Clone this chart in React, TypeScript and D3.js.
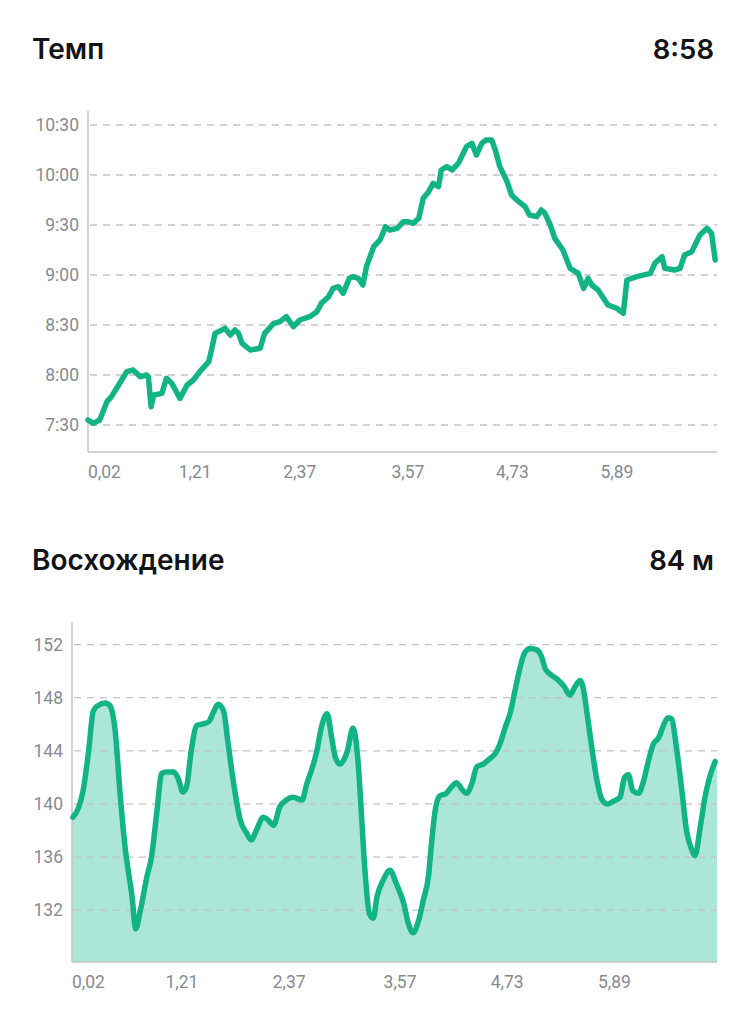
import React from "react";
import * as d3 from "d3";

// Pace chart: distance (km) vs pace (seconds per km)
const paceKm = [
  0.02, 0.08, 0.15, 0.23, 0.28, 0.36, 0.45, 0.52, 0.6, 0.67, 0.69, 0.72, 0.75, 0.84, 0.89, 0.95, 0.99, 1.04, 1.12, 1.19,
  1.26, 1.36, 1.39, 1.43, 1.54, 1.6, 1.65, 1.69, 1.73, 1.82, 1.93, 1.98, 2.08, 2.15, 2.22, 2.3, 2.37, 2.48, 2.56, 2.61,
  2.69, 2.74, 2.8, 2.85, 2.92, 2.96, 3.02, 3.07, 3.11, 3.19, 3.26, 3.3, 3.32, 3.37, 3.45, 3.52, 3.57, 3.63, 3.69, 3.74,
  3.8, 3.85, 3.91, 3.94, 4.0, 4.06, 4.13, 4.22, 4.28, 4.33, 4.39, 4.44, 4.5, 4.54, 4.59, 4.67, 4.72, 4.8, 4.87, 4.92,
  5.0, 5.05, 5.09, 5.15, 5.2, 5.29, 5.37, 5.46, 5.52, 5.57, 5.61, 5.68, 5.79, 5.89, 5.96, 6.0, 6.11, 6.26, 6.31, 6.39,
  6.42, 6.53, 6.59, 6.64, 6.72, 6.81, 6.89, 6.94, 6.98,
];
const paceSec = [
  453, 451, 453, 464, 467, 474, 482, 483, 479, 480, 479, 461, 468, 469, 478, 475, 471, 466, 474, 477,
  482, 488, 495, 505, 508, 504, 507, 505, 499, 495, 496, 505, 511, 512, 515, 509, 513, 515, 518, 523,
  527, 532, 533, 529, 538, 539, 538, 534, 545, 557, 561, 566, 569, 567, 568, 572, 572, 571, 574, 586,
  590, 595, 593, 603, 605, 603, 607, 617, 619, 612, 619, 621, 621, 615, 605, 596, 588, 584, 581, 576,
  575, 579, 577, 570, 562, 555, 544, 541, 532, 538, 534, 531, 522, 520, 517, 537, 539, 541, 547, 551,
  544, 543, 544, 552, 554, 564, 568, 565, 549,
];
const paceTicks = [450, 480, 510, 540, 570, 600, 630];

// Elevation chart: distance (km) vs altitude (m)
const elevKm = [
  0.03, 0.09, 0.14, 0.2, 0.25, 0.3, 0.38, 0.43, 0.49, 0.54, 0.59, 0.67, 0.71, 0.76, 0.83, 0.88, 0.94, 0.99, 1.04, 1.12,
  1.17, 1.22, 1.26, 1.31, 1.37, 1.42, 1.5, 1.55, 1.6, 1.66, 1.71, 1.77, 1.84, 1.91, 1.96, 2.02, 2.09, 2.14, 2.2, 2.27,
  2.34, 2.41, 2.51, 2.56, 2.61, 2.67, 2.72, 2.78, 2.83, 2.87, 2.92, 3.0, 3.06, 3.12, 3.15, 3.19, 3.24, 3.28, 3.32, 3.39,
  3.46, 3.53, 3.61, 3.66, 3.71, 3.77, 3.82, 3.88, 3.91, 3.95, 4.0, 4.07, 4.13, 4.18, 4.24, 4.29, 4.35, 4.4, 4.47, 4.54,
  4.6, 4.65, 4.71, 4.76, 4.81, 4.87, 4.92, 4.98, 5.05, 5.1, 5.14, 5.19, 5.27, 5.34, 5.41, 5.46, 5.52, 5.55, 5.59, 5.64,
  5.7, 5.75, 5.81, 5.88, 5.95, 6.0, 6.04, 6.09, 6.15, 6.2, 6.26, 6.31, 6.37, 6.42, 6.47, 6.51, 6.56, 6.62, 6.67, 6.73,
  6.76, 6.82, 6.87, 6.92, 6.98,
];
const elevM = [
  139.0, 139.7, 141.0, 144.0, 147.0, 147.4, 147.6, 147.4, 145.3, 140.8, 137.0, 133.0, 130.6, 132.0, 134.5, 136.0, 139.5, 142.3, 142.4, 142.4,
  141.9, 140.9, 141.3, 144.0, 145.9, 146.0, 146.2, 146.9, 147.5, 147.0, 144.5, 141.5, 138.8, 137.8, 137.3, 138.1, 139.0, 138.8, 138.4, 139.8,
  140.3, 140.5, 140.3, 141.5, 142.5, 144.0, 145.8, 146.8, 145.0, 143.5, 143.0, 144.0, 145.7, 142.8, 139.5, 135.0, 131.7, 131.4, 133.0, 134.3,
  135.0, 134.0, 132.5, 131.0, 130.3, 131.2, 132.7, 134.7, 137.0, 139.5, 140.6, 140.8, 141.3, 141.6, 141.1, 140.8, 141.6, 142.8, 143.0, 143.4,
  143.8, 144.5, 145.8, 146.8, 148.4, 150.3, 151.4, 151.7, 151.6, 151.1, 150.2, 149.8, 149.4, 148.9, 148.2, 148.8, 149.3, 148.8, 147.0, 144.5,
  141.8, 140.4, 140.0, 140.2, 140.5, 142.0, 142.2, 141.0, 140.8, 141.6, 143.3, 144.5, 145.0, 145.9, 146.5, 146.4, 144.3, 141.0, 138.0, 136.5,
  136.1, 138.3, 140.5, 142.0, 143.2,
];
const elevTicks = [132, 136, 140, 144, 148, 152];

const xTicks = [0.02, 1.21, 2.37, 3.57, 4.73, 5.89];

const GREEN = "#12b385";
const FILL = "#abe6d6";
const GRID = "#c4c4c4";
const AXIS = "#c4c4c4";
const LABEL = "#878a91";
const TITLE = "#121417";
const titleFont = "Inter, 'Noto Sans', sans-serif";
const tickFont = "Roboto, 'Noto Sans', sans-serif";

const fmtPace = (s: number) => `${Math.floor(s / 60)}:${String(Math.round(s % 60)).padStart(2, "0")}`;
const fmtKm = (v: number) => v.toFixed(2).replace(".", ",");

type PanelProps = {
  title: string;
  value: string;
  titleY: number;
  left: number;
  top: number;
  bottom: number;
  xs: number[];
  ys: number[];
  yDomain: [number, number];
  yTicks: number[];
  yFormat: (v: number) => string;
  area?: boolean;
};

const Panel = ({ title, value, titleY, left, top, bottom, xs, ys, yDomain, yTicks, yFormat, area }: PanelProps) => {
  const right = 717;
  const x = d3.scaleLinear().domain([0.02, 7.0]).range([left, right]);
  const y = d3.scaleLinear().domain(yDomain).range([bottom, top]);
  const pts: [number, number][] = xs.map((d, i) => [d, ys[i]]);

  const curve = area ? d3.curveMonotoneX : d3.curveLinear;
  const line = d3
    .line<[number, number]>()
    .x((d) => x(d[0]))
    .y((d) => y(d[1]))
    .curve(curve);
  const areaGen = d3
    .area<[number, number]>()
    .x((d) => x(d[0]))
    .y0(bottom)
    .y1((d) => y(d[1]))
    .curve(curve);

  // stretch the fill to both edges of the plot
  const areaPts: [number, number][] = [[0.02, ys[0]], ...pts, [7.0, ys[ys.length - 1]]];

  return (
    <g>
      <text x={32} y={titleY} fontFamily={titleFont} fontWeight={600} fontSize={28} fill={TITLE}>
        {title}
      </text>
      <text x={714} y={titleY} fontFamily={titleFont} fontWeight={600} fontSize={27.5} fill={TITLE} textAnchor="end">
        {value}
      </text>

      {area && <path d={areaGen(areaPts) || ""} fill={FILL} />}

      {yTicks.map((t) => (
        <g key={t}>
          <line x1={left + 2} x2={right} y1={y(t)} y2={y(t)} stroke={GRID} strokeWidth={1.3} strokeDasharray="7,6" />
          <text
            x={left - 9}
            y={y(t)}
            dy="0.35em"
            textAnchor="end"
            fontFamily={tickFont}
            fontSize={17.5}
            fill={LABEL}
          >
            {yFormat(t)}
          </text>
        </g>
      ))}

      <line x1={left} x2={left} y1={top} y2={bottom} stroke={AXIS} strokeWidth={1.5} />
      <line x1={left} x2={right} y1={bottom} y2={bottom} stroke={AXIS} strokeWidth={1.5} />

      {xTicks.map((t, i) => (
        <text
          key={t}
          x={i === 0 ? left : x(t)}
          y={bottom + 26}
          textAnchor={i === 0 ? "start" : "middle"}
          fontFamily={tickFont}
          fontSize={17.5}
          fill={LABEL}
        >
          {fmtKm(t)}
        </text>
      ))}

      <path
        d={line(pts) || ""}
        fill="none"
        stroke={GREEN}
        strokeWidth={5.5}
        strokeLinejoin="round"
        strokeLinecap="round"
      />
    </g>
  );
};

export default function App() {
  return (
    <svg
      width={745}
      height={1024}
      style={{ position: "absolute", left: 0, top: 0, background: "#fff" }}
    >
      <rect width={745} height={1024} fill="#fff" />
      <Panel
        title="Темп"
        value="8:58"
        titleY={59}
        left={88}
        top={111}
        bottom={452}
        xs={paceKm}
        ys={paceSec}
        yDomain={[433.8, 638.4]}
        yTicks={paceTicks}
        yFormat={fmtPace}
      />
      <Panel
        title="Восхождение"
        value="84 м"
        titleY={570}
        left={72}
        top={622}
        bottom={962}
        xs={elevKm}
        ys={elevM}
        yDomain={[128.1, 153.7]}
        yTicks={elevTicks}
        yFormat={(v) => String(v)}
        area
      />
    </svg>
  );
}
